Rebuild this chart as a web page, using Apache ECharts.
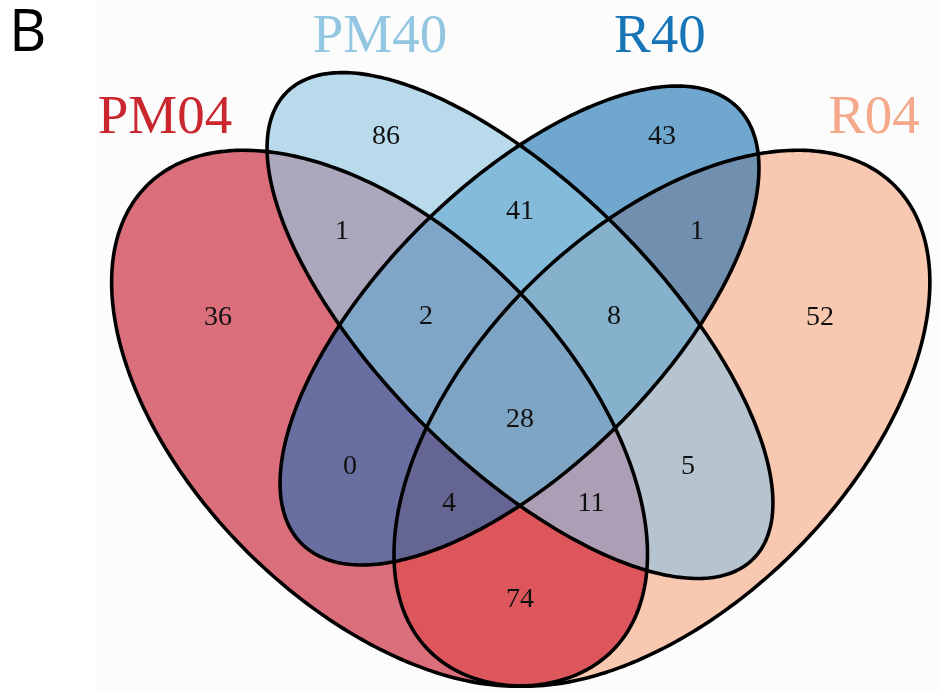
<!DOCTYPE html>
<html>
<head>
<meta charset="utf-8">
<script src="https://cdn.jsdelivr.net/npm/echarts@6/dist/echarts.min.js"></script>
<style>
  html, body { margin: 0; padding: 0; background: #ffffff; }
  #chart { width: 938px; height: 691px; }
</style>
</head>
<body>
<div id="chart"></div>
<script>
// ---- data ----
const setNames = ['PM04', 'PM40', 'R40', 'R04'];
// regions, listed by the sets they belong to (smallest combinations first)
const regionSets = [
  [0], [1], [2], [3],
  [0, 1], [0, 2], [0, 3], [1, 2], [1, 3], [2, 3],
  [0, 1, 2], [0, 1, 3], [0, 2, 3], [1, 2, 3],
  [0, 1, 2, 3]
];
const regionCounts = [36, 86, 43, 52, 1, 0, 74, 41, 5, 1, 2, 11, 4, 8, 28];

// ---- styling ----
const setLabelColors = ['#C9262D', '#93C7E1', '#1775B7', '#F3A98A'];
const regionFills = [
  '#DB6E7B', '#B8DAEA', '#6FA7CF', '#F9C8B0',
  '#ACA7BC', '#686FA0', '#DC565B', '#84BADA', '#B6C4CF', '#718FAE',
  '#7FA5C7', '#AB9EB5', '#656594', '#86B1CD',
  '#7FA5C5'
];

// ---- layout (unit square coordinates) ----
const ellipses = [
  { cx: 0.352, cy: 0.470, a: 0.350, b: 0.200, angle: -45 },  // PM04
  { cx: 0.5014, cy: 0.5686, a: 0.351, b: 0.147, angle: -45 }, // PM40
  { cx: 0.5009, cy: 0.5686, a: 0.328, b: 0.149, angle: 45 },  // R40
  { cx: 0.6524, cy: 0.470, a: 0.350, b: 0.200, angle: 45 }    // R04
];
const regionLabelX = [0.1801, 0.3588, 0.6524, 0.8205, 0.3120, 0.3205, 0.5014, 0.5014, 0.6801, 0.6897, 0.4014, 0.5769, 0.4259, 0.6014, 0.5014];
const regionLabelY = [0.5766, 0.7691, 0.7691, 0.5766, 0.6681, 0.4181, 0.2766, 0.6894, 0.4181, 0.6681, 0.5777, 0.3787, 0.3787, 0.5777, 0.4681];
const setLabelX = [0.1237, 0.3525, 0.6503, 0.8780];
const setLabelY = [0.7890, 0.8745, 0.8745, 0.7890];

// ellipse outlines as polygons (counter-clockwise)
function ellipsePoly(e, n) {
  const th = e.angle * Math.PI / 180, c = Math.cos(th), s = Math.sin(th);
  const pts = [];
  for (let i = 0; i < n; i++) {
    const t = 2 * Math.PI * i / n;
    const x = e.a * Math.cos(t), y = e.b * Math.sin(t);
    pts.push([e.cx + x * c - y * s, e.cy + x * s + y * c]);
  }
  return pts;
}
// Sutherland–Hodgman clipping against a convex polygon
function clipPoly(subject, clip) {
  let out = subject;
  for (let i = 0; i < clip.length && out.length; i++) {
    const A = clip[i], B = clip[(i + 1) % clip.length];
    const side = p => (B[0] - A[0]) * (p[1] - A[1]) - (B[1] - A[1]) * (p[0] - A[0]);
    const inp = out;
    out = [];
    for (let j = 0; j < inp.length; j++) {
      const P = inp[j], Q = inp[(j + 1) % inp.length];
      const sp = side(P), sq = side(Q);
      if (sp >= 0) out.push(P);
      if ((sp >= 0) !== (sq >= 0)) {
        const t = sp / (sp - sq);
        out.push([P[0] + t * (Q[0] - P[0]), P[1] + t * (Q[1] - P[1])]);
      }
    }
  }
  return out;
}
const ellPolys = ellipses.map(e => ellipsePoly(e, 360));

const chart = echarts.init(document.getElementById('chart'), null, { renderer: 'canvas' });

const regionData = regionSets.map((s, i) => [regionLabelX[i], regionLabelY[i], regionCounts[i], i]);
const setData = setNames.map((n, i) => [setLabelX[i], setLabelY[i], i]);

chart.setOption({
  backgroundColor: '#ffffff',
  animation: false,
  graphic: [
    { type: 'rect', left: 97, top: 0, shape: { width: 841, height: 691 }, style: { fill: '#FCFCFD' }, z: -10 },
    { type: 'text', left: 9, top: 5, style: { text: 'B', font: '400 58px "Open Sans"', fill: '#000' } }
  ],
  grid: { left: 0, right: 0, top: 0, bottom: 0 },
  xAxis: { type: 'value', min: -0.0518, max: 0.9461, show: false },
  yAxis: { type: 'value', min: 0.1798, max: 0.9149, show: false },
  series: [
    {
      // filled regions: each intersection painted over the smaller combinations
      type: 'custom',
      z: 1,
      silent: true,
      clip: false,
      data: regionData,
      renderItem: function (params, api) {
        const idx = params.dataIndex;
        const sets = regionSets[idx];
        let poly = ellPolys[sets[0]];
        for (let k = 1; k < sets.length; k++) poly = clipPoly(poly, ellPolys[sets[k]]);
        if (poly.length < 3) return null;
        return {
          type: 'polygon',
          shape: { points: poly.map(p => api.coord(p)) },
          style: { fill: regionFills[idx], stroke: regionFills[idx], lineWidth: 0.6 }
        };
      }
    },
    {
      // ellipse outlines
      type: 'custom',
      z: 2,
      silent: true,
      clip: false,
      data: setData,
      renderItem: function (params, api) {
        const poly = ellPolys[params.dataIndex];
        return {
          type: 'polygon',
          shape: { points: poly.map(p => api.coord(p)) },
          style: { fill: 'none', stroke: '#000000', lineWidth: 3.6 }
        };
      }
    },
    {
      // region counts
      type: 'custom',
      z: 3,
      silent: true,
      clip: false,
      data: regionData,
      renderItem: function (params, api) {
        const pt = api.coord([api.value(0), api.value(1)]);
        return {
          type: 'text',
          x: pt[0], y: pt[1],
          style: {
            text: String(api.value(2)),
            font: '28px "Liberation Serif"',
            fill: '#111111',
            align: 'center', verticalAlign: 'middle',
            textAlign: 'center', textVerticalAlign: 'middle'
          }
        };
      }
    },
    {
      // set names
      type: 'custom',
      z: 3,
      silent: true,
      clip: false,
      data: setData,
      renderItem: function (params, api) {
        const i = params.dataIndex;
        const pt = api.coord([api.value(0), api.value(1)]);
        return {
          type: 'text',
          x: pt[0], y: pt[1],
          style: {
            text: setNames[i],
            font: '55px "Liberation Serif"',
            fill: setLabelColors[i],
            align: 'center', verticalAlign: 'middle',
            textAlign: 'center', textVerticalAlign: 'middle'
          }
        };
      }
    }
  ]
});
</script>
</body>
</html>
